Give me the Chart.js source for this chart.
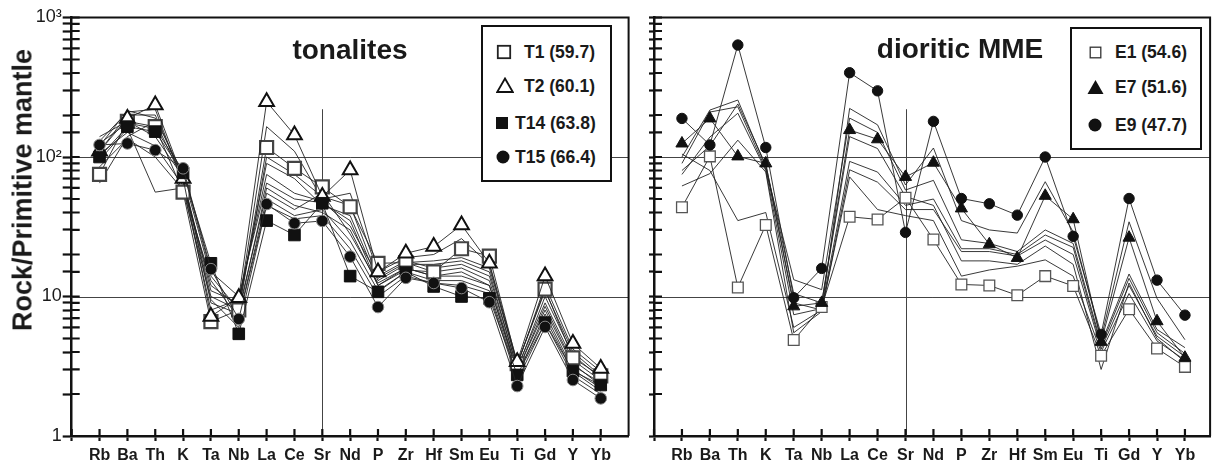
<!DOCTYPE html>
<html>
<head>
<meta charset="utf-8">
<script src="https://cdn.jsdelivr.net/npm/chart.js@4.4.1/dist/chart.umd.min.js"></script>
<style>
  html, body { margin: 0; padding: 0; background: #fff; }
  #wrap { position: relative; width: 1219px; height: 470px; background: #fff; overflow: hidden;
          font-family: "Liberation Sans", Arial, Helvetica, sans-serif; color: #111; }
  .panel { position: absolute; top: 0; height: 470px; }
  .title { position: absolute; font-weight: bold; font-size: 28px; white-space: nowrap; line-height: 1; transform: translateX(-50%); color: #1a1a1a; }
  .ytitle { position: absolute; left: 23px; top: 190px; font-weight: bold; font-size: 27px; white-space: nowrap; line-height: 1;
            color: #1a1a1a; transform: translate(-50%, -50%) rotate(-90deg); }
  .legend { position: absolute; border: 2px solid #111; background: #fff; box-sizing: border-box; }
  .item { position: absolute; left: 0; right: 0; height: 24px; font-weight: bold; font-size: 17.5px; line-height: 24px; white-space: nowrap; color: #1a1a1a; }
  .item svg { position: absolute; }
  .item span { position: absolute; }
</style>
</head>
<body>
<div id="wrap">
  <div class="panel" style="left:0;width:640px"><canvas id="tonal"></canvas></div>
  <div class="panel" style="left:640px;width:579px"><canvas id="mme"></canvas></div>

  <div class="ytitle">Rock/Primitive mantle</div>

  <div class="title" style="left:350px;top:36px">tonalites</div>
  <div class="legend" style="left:481px;top:25px;width:131px;height:157px">
    <div class="item" style="top:13px"><svg style="left:13px;top:4px" width="16" height="16"><rect x="1.8" y="1.8" width="12.4" height="12.4" fill="#fff" stroke="#222" stroke-width="1.8"/></svg><span style="left:41px">T1 (59.7)</span></div>
    <div class="item" style="top:47px"><svg style="left:13px;top:3px" width="18" height="17"><polygon points="9,1.5 16.8,15 1.2,15" fill="#fff" stroke="#111" stroke-width="1.8"/></svg><span style="left:41px">T2 (60.1)</span></div>
    <div class="item" style="top:84px"><svg style="left:12px;top:5px" width="14" height="14"><rect x="1" y="1" width="12" height="12" fill="#111"/></svg><span style="left:32px">T14 (63.8)</span></div>
    <div class="item" style="top:118px"><svg style="left:13px;top:5px" width="14" height="14"><circle cx="7" cy="7" r="6.5" fill="#111"/></svg><span style="left:32px">T15 (66.4)</span></div>
  </div>

  <div class="title" style="left:960px;top:35px">dioritic MME</div>
  <div class="legend" style="left:1070px;top:27px;width:132px;height:123px">
    <div class="item" style="top:11px"><svg style="left:17px;top:6px" width="13" height="13"><rect x="1.2" y="1.2" width="10.6" height="10.6" fill="#fff" stroke="#333" stroke-width="1.3"/></svg><span style="left:43px">E1 (54.6)</span></div>
    <div class="item" style="top:46px"><svg style="left:15px;top:4px" width="17" height="16"><polygon points="8.5,1 16.5,15 0.5,15" fill="#111"/></svg><span style="left:43px">E7 (51.6)</span></div>
    <div class="item" style="top:84px"><svg style="left:16px;top:5px" width="14" height="14"><circle cx="7" cy="7" r="6.5" fill="#111"/></svg><span style="left:43px">E9 (47.7)</span></div>
  </div>
</div>

<script>
// Element order of the primitive-mantle normalised spider diagram
const ELEMENTS = ['Rb','Ba','Th','K','Ta','Nb','La','Ce','Sr','Nd','P','Zr','Hf','Sm','Eu','Ti','Gd','Y','Yb'];

// Y axis: decade labels
const Y_TICK_LABELS = { 1: '1', 10: '10', 100: '10\u00B2', 1000: '10\u00B3' };

// Tonalites - labelled samples
const T1  = [75, 180, 165, 56, 6.6, 8.0, 117, 83, 61, 44, 17.3, 17.5, 15, 22, 19.5, 3.3, 11.3, 3.63, 2.7];
const T2  = [110, 189, 236, 70, 7.2, 9.8, 249, 144, 52, 80.7, 15, 20.4, 22.8, 32.6, 17.3, 3.4, 14, 4.6, 3.05];
const T14 = [100, 165, 152, 77, 17.3, 5.4, 35, 27.6, 46.6, 14, 10.8, 15, 11.8, 10, 9.7, 2.74, 6.5, 2.92, 2.32];
const T15 = [122, 125, 112, 83, 15.7, 6.9, 46, 33.5, 34.8, 19.3, 8.4, 13.6, 12.5, 11.5, 9.1, 2.28, 6.05, 2.52, 1.86];

// Tonalites - other samples
const TA = [130, 210, 220, 65, 12, 8.5, 165, 110, 50, 55, 15, 19, 20, 26, 17, 3.2, 12, 4.2, 2.9];
const TB = [110, 200, 200, 70, 11, 9, 90, 70, 45, 38, 13, 17, 17, 18, 15, 3.0, 10, 3.8, 2.6];
const TC = [140, 180, 140, 72, 9, 7.5, 60, 45, 40, 30, 12, 16, 14, 15, 12, 2.9, 8, 3.2, 2.4];
const TD = [95, 160, 56, 60, 13, 7, 50, 38, 42, 25, 11, 15, 13, 13, 11, 2.7, 7.5, 3.0, 2.2];
const TE = [65, 140, 180, 68, 10, 8, 55, 42, 55, 28, 12.5, 16, 14, 14, 12, 2.8, 7, 2.9, 2.1];
const TF = [105, 150, 120, 62, 8, 9.5, 75, 55, 48, 32, 14, 18, 16, 17, 14, 3.1, 9, 3.5, 2.5];
const TG = [120, 215, 190, 75, 14, 8, 100, 75, 52, 45, 13.5, 17.5, 18, 19, 16, 3.3, 11, 4.0, 2.7];
const TH = [85, 135, 100, 58, 9.5, 6, 45, 36, 38, 22, 10, 14, 12.5, 12, 10.5, 2.5, 6.5, 2.7, 2.0];
const TI = [125, 175, 160, 80, 15, 10, 65, 50, 47, 35, 12, 15.5, 15, 16, 13, 2.9, 8.5, 3.3, 2.3];

// Dioritic MME - labelled samples
const E1 = [43.6, 101, 11.6, 32.6, 4.87, 8.4, 37.3, 35.7, 51, 25.6, 12.2, 12, 10.2, 14, 11.9, 3.76, 8.1, 4.24, 3.13];
const E7 = [125, 189, 101, 90, 8.5, 9, 156, 134, 72, 91, 42.8, 23.7, 18.9, 52.7, 35.8, 4.73, 26.4, 6.65, 3.64];
const E9 = [189, 122, 635, 117, 9.8, 15.9, 402, 298, 28.8, 180, 50.4, 46.2, 38.3, 100, 27, 5.35, 50.4, 13.1, 7.35];

// Dioritic MME - other samples
const MA = [100, 217, 256, 85, 9, 8, 223, 170, 63, 116, 35, 30, 28.5, 66.5, 29, 5.0, 34.3, 9.7, 4.9];
const MB = [90, 210, 229, 82, 13.2, 11.2, 190, 150, 58, 68, 25.5, 24, 21, 30, 24, 4.6, 14.5, 5.8, 4.3];
const MC = [75, 139, 206, 80, 7.4, 8.2, 93, 78, 45, 50, 22, 22, 20, 27.6, 22.5, 4.4, 13.5, 5.5, 3.9];
const MD = [62, 76, 132, 78, 5.5, 7.8, 81, 66, 42, 42, 21, 21, 19.5, 25.4, 20, 4.2, 12, 5.2, 3.7];
const ME = [105, 80, 35, 40, 6, 8, 72, 42, 38, 35, 14, 15.5, 16.5, 18.3, 14, 4.0, 10.5, 4.8, 3.5];
const MF = [80, 120, 240, 88, 10.5, 9, 140, 115, 52, 45, 18, 18, 17, 23, 17, 3.0, 12.5, 5.0, 3.4];

const FONT = '"Liberation Sans", Arial, Helvetica, sans-serif';
const INK = '#111';

function points(values) {
  return values.map((v, i) => ({ x: i + 1, y: v }));
}

function plainSeries(values) {
  return { data: points(values), borderColor: '#222', borderWidth: 0.9, pointRadius: 0, pointHoverRadius: 0, tension: 0, fill: false };
}

function markedSeries(values, style, radius, fill, stroke, strokeWidth) {
  return { data: points(values), borderColor: '#222', borderWidth: 0.9, tension: 0, fill: false,
           pointStyle: style, pointRadius: radius, pointHoverRadius: radius,
           pointBackgroundColor: fill, pointBorderColor: stroke, pointBorderWidth: strokeWidth };
}

// Frame, reference lines and ticks that cross the axes
const spiderDecor = {
  id: 'spiderDecor',
  beforeDatasetsDraw(chart) {
    const { ctx, chartArea: a, scales: { x, y } } = chart;
    ctx.save();
    ctx.strokeStyle = '#444';
    ctx.lineWidth = 1;
    ctx.beginPath();
    [10, 100].forEach(v => {
      const py = Math.round(y.getPixelForValue(v)) + 0.5;
      ctx.moveTo(a.left, py); ctx.lineTo(a.right, py);
    });
    const sx = Math.round(x.getPixelForValue(ELEMENTS.indexOf('Sr') + 1)) + 0.5;
    ctx.moveTo(sx, y.getPixelForValue(220)); ctx.lineTo(sx, a.bottom);
    ctx.stroke();
    ctx.restore();
  },
  afterDraw(chart) {
    const { ctx, chartArea: a, scales: { x, y } } = chart;
    ctx.save();
    ctx.strokeStyle = INK;
    // inner halves of the ticks
    ctx.lineWidth = 2.2;
    ctx.beginPath();
    y.ticks.forEach(t => {
      const py = y.getPixelForValue(t.value);
      ctx.moveTo(a.left, py); ctx.lineTo(a.left + 8, py);
    });
    x.ticks.forEach(t => {
      const px = x.getPixelForValue(t.value);
      ctx.moveTo(px, a.bottom); ctx.lineTo(px, a.bottom - 7);
    });
    ctx.stroke();
    // top and right frame
    ctx.lineWidth = 2;
    ctx.beginPath();
    ctx.moveTo(a.left, a.top); ctx.lineTo(a.right, a.top); ctx.lineTo(a.right, a.bottom);
    ctx.stroke();
    ctx.restore();
  }
};

function spiderOptions(cfg) {
  return {
    responsive: true,
    maintainAspectRatio: false,
    animation: false,
    devicePixelRatio: 1,
    events: [],
    layout: { padding: { left: 0, top: 17.5, right: cfg.padRight, bottom: 0 } },
    plugins: { legend: { display: false }, tooltip: { enabled: false } },
    scales: {
      x: {
        type: 'linear', min: 0, max: cfg.xMax,
        afterFit: s => { s.height = 34; },
        afterBuildTicks: s => { s.ticks = Array.from({ length: 20 }, (_, i) => ({ value: i })); },
        ticks: {
          autoSkip: false, maxRotation: 0, padding: 5, color: '#1a1a1a',
          font: { family: FONT, size: 16, weight: 'bold' },
          callback: v => ELEMENTS[v - 1] || ''
        },
        grid: { display: true, drawOnChartArea: false, drawTicks: true, tickLength: 5, tickWidth: 2.2, tickColor: INK },
        border: { display: true, color: INK, width: 2.5 }
      },
      y: {
        type: 'logarithmic', min: 1, max: 1000,
        afterFit: s => { s.width = cfg.yWidth; },
        ticks: {
          autoSkip: false, padding: 1, color: '#1a1a1a',
          font: { family: FONT, size: 18 },
          callback: v => cfg.yLabels ? (Y_TICK_LABELS[v] || '') : ''
        },
        grid: { display: true, drawOnChartArea: false, drawTicks: true, tickLength: cfg.tickOut, tickWidth: 2.2, tickColor: INK },
        border: { display: true, color: INK, width: 2.5 }
      }
    }
  };
}

new Chart(document.getElementById('tonal'), {
  type: 'line',
  data: {
    datasets: [
      markedSeries(T15, 'circle', 5.8, '#111', '#888', 1),
      markedSeries(T14, 'rect', 8.2, '#111', '#111', 1),
      markedSeries(T2, 'triangle', 8.5, '#fff', '#111', 2),
      markedSeries(T1, 'rect', 9.2, '#fff', '#444', 2.2),
      plainSeries(TA), plainSeries(TB), plainSeries(TC), plainSeries(TD), plainSeries(TE),
      plainSeries(TF), plainSeries(TG), plainSeries(TH), plainSeries(TI)
    ]
  },
  options: spiderOptions({ xMax: 20, padRight: 1.7, yWidth: 71.7, yLabels: true, tickOut: 9 }),
  plugins: [spiderDecor]
});

new Chart(document.getElementById('mme'), {
  type: 'line',
  data: {
    datasets: [
      markedSeries(E9, 'circle', 5.2, '#111', '#111', 1),
      markedSeries(E7, 'triangle', 7, '#111', '#111', 1),
      markedSeries(E1, 'rect', 7.6, '#fff', '#555', 1.3),
      plainSeries(MA), plainSeries(MB), plainSeries(MC), plainSeries(MD), plainSeries(ME), plainSeries(MF)
    ]
  },
  options: spiderOptions({ xMax: 19.9, padRight: 1.5, yWidth: 14, yLabels: false, tickOut: 5 }),
  plugins: [spiderDecor]
});
</script>
</body>
</html>
